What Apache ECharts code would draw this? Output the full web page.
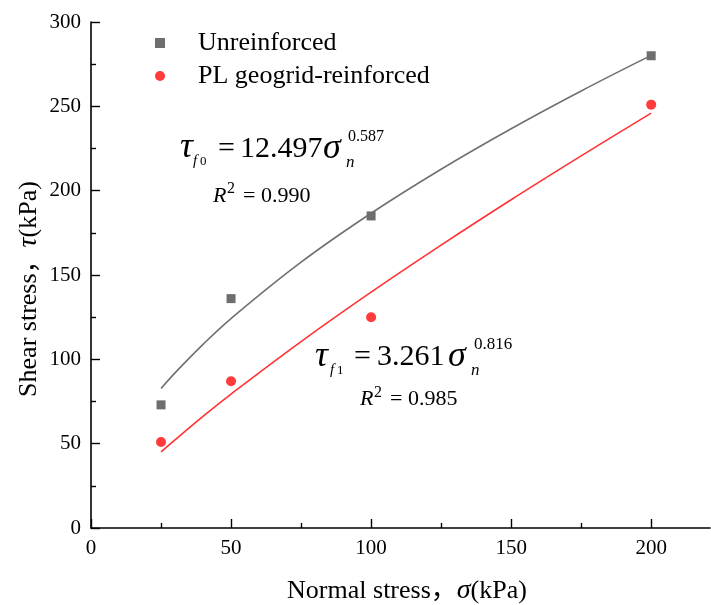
<!DOCTYPE html>
<html><head><meta charset="utf-8">
<script src="https://cdn.jsdelivr.net/npm/echarts@6/dist/echarts.min.js"></script>
<style>html,body{margin:0;padding:0;background:#fff}#c{width:711px;height:605px}</style>
</head><body><div id="c"></div>
<script>
// ---- data ----
const normalStress = [25, 50, 100, 200];
const unreinforced = [73, 136, 185, 280];
const plReinforced = [51, 87, 125, 251];
const fitX = [25, 30, 40, 50, 75, 100, 125, 150, 175, 200];
const fitUnreinforced = [82.7, 92.0, 108.9, 124.2, 157.6, 186.6, 212.7, 236.7, 259.1, 280.2];
const fitReinforced = [45.1, 52.3, 66.2, 79.4, 110.5, 139.8, 167.7, 194.6, 220.6, 246.0];
const xTickLabels = [0, 50, 100, 150, 200];
const xMinorTicks = [25, 75, 125, 175];
const yTickLabels = [0, 50, 100, 150, 200, 250, 300];
const seriesNames = ['Unreinforced', 'PL geogrid-reinforced'];

const FF = "'Liberation Serif', 'Times New Roman', 'Noto Sans CJK SC', serif";
const GRAY = '#6e6e6e', RED = '#ff3b3b';

function pairs(xs, ys) { return xs.map((x, i) => [x, ys[i]]); }
function txt(text, x, y, size, italic) {
  return { type: 'text', x: x, y: y, z: 100,
    style: { text: text, fontFamily: FF, fontSize: size, fontStyle: italic ? 'italic' : 'normal',
      fill: '#000', align: 'left', verticalAlign: 'middle' } };
}

const chart = echarts.init(document.getElementById('c'), null, { renderer: 'canvas' });
const lineSt = { color: '#000', width: 1.6 };
const tickSt = { color: '#000', width: 1.4 };
const labelSt = { fontFamily: FF, fontSize: 21, color: '#000', margin: 10 };

chart.setOption({
  animation: false,
  backgroundColor: '#fff',
  grid: { left: 91, right: 1, top: 22, bottom: 77, containLabel: false },
  xAxis: [
    { type: 'value', min: 0, max: 221, interval: 50,
      axisLine: { show: true, lineStyle: lineSt },
      axisTick: { show: true, inside: true, length: 9, lineStyle: tickSt, customValues: xTickLabels },
      minorTick: { show: false }, splitLine: { show: false },
      axisLabel: Object.assign({}, labelSt, { customValues: xTickLabels }) },
    { type: 'value', min: 0, max: 221, position: 'bottom',
      axisLine: { show: false },
      axisTick: { show: true, inside: true, length: 5, lineStyle: tickSt, customValues: xMinorTicks },
      axisLabel: { show: false }, splitLine: { show: false } }
  ],
  yAxis: {
    type: 'value', min: 0, max: 300, interval: 50,
    axisLine: { show: true, lineStyle: lineSt },
    axisTick: { show: true, inside: true, length: 9, lineStyle: tickSt },
    minorTick: { show: true, splitNumber: 2, length: 5, lineStyle: tickSt },
    splitLine: { show: false },
    axisLabel: Object.assign({}, labelSt, {
      formatter: v => yTickLabels.indexOf(v) >= 0 ? String(v) : '' })
  },
  legend: {
    orient: 'vertical', left: 155, top: 30, padding: 0, itemGap: 7,
    itemWidth: 10, itemHeight: 10,
    textStyle: { fontFamily: FF, fontSize: 26, color: '#000', lineHeight: 26, padding: [0, 0, 0, 28] },
    data: [{ name: seriesNames[0], icon: 'rect' }, { name: seriesNames[1], icon: 'circle' }]
  },
  series: [
    { name: 'fit0', type: 'line', data: pairs(fitX, fitUnreinforced), smooth: 0.4, symbol: 'none',
      lineStyle: { color: '#707070', width: 1.6 }, z: 2 },
    { name: 'fit1', type: 'line', data: pairs(fitX, fitReinforced), smooth: 0.4, symbol: 'none',
      lineStyle: { color: '#ff3333', width: 1.6 }, z: 2 },
    { name: seriesNames[0], type: 'scatter', data: pairs(normalStress, unreinforced), symbol: 'rect',
      symbolSize: 9, itemStyle: { color: GRAY, opacity: 1 }, z: 5 },
    { name: seriesNames[1], type: 'scatter', data: pairs(normalStress, plReinforced), symbol: 'circle',
      symbolSize: 10, itemStyle: { color: RED, opacity: 1 }, z: 5 }
  ],
  graphic: [
    // equation 1
    txt('τ', 180, 148, 36, true),
    txt('f', 193, 161, 15, true), txt('0', 200, 162, 13, false),
    txt('=', 218, 149, 30, false),
    txt('12.497', 240, 149, 30, false),
    txt('σ', 323, 149, 36, true),
    txt('n', 346, 163, 17, true),
    txt('0.587', 348, 137, 16, false),
    txt('R', 213, 196, 22, true), txt('2', 227, 189, 16, false), txt('= 0.990', 243, 196, 22, false),
    // equation 2
    txt('τ', 315, 356.5, 36, true),
    txt('f', 330, 370, 15, true), txt('1', 337, 371, 13, false),
    txt('=', 354, 357, 30, false),
    txt('3.261', 377, 357, 30, false),
    txt('σ', 448, 357, 36, true),
    txt('n', 471, 371, 17, true),
    txt('0.816', 474, 345, 17, false),
    txt('R', 360, 399.5, 22, true), txt('2', 374, 393, 16, false), txt('= 0.985', 390, 399.5, 22, false),
    // axis titles
    { type: 'text', x: 407, y: 591, z: 100,
      style: { text: '{r|Normal stress，}{i|σ}{r|(kPa)}', align: 'center', verticalAlign: 'middle',
        rich: { r: { fontFamily: FF, fontSize: 26, fill: '#000' }, i: { fontFamily: FF, fontSize: 28, fontStyle: 'italic', fill: '#000' } } } },
    { type: 'text', x: 29, y: 289, rotation: Math.PI / 2, z: 100,
      style: { text: '{r|Shear stress，}{i|τ}{r|(kPa)}', align: 'center', verticalAlign: 'middle',
        rich: { r: { fontFamily: FF, fontSize: 26, fill: '#000' }, i: { fontFamily: FF, fontSize: 28, fontStyle: 'italic', fill: '#000' } } } }
  ]
});
</script></body></html>
